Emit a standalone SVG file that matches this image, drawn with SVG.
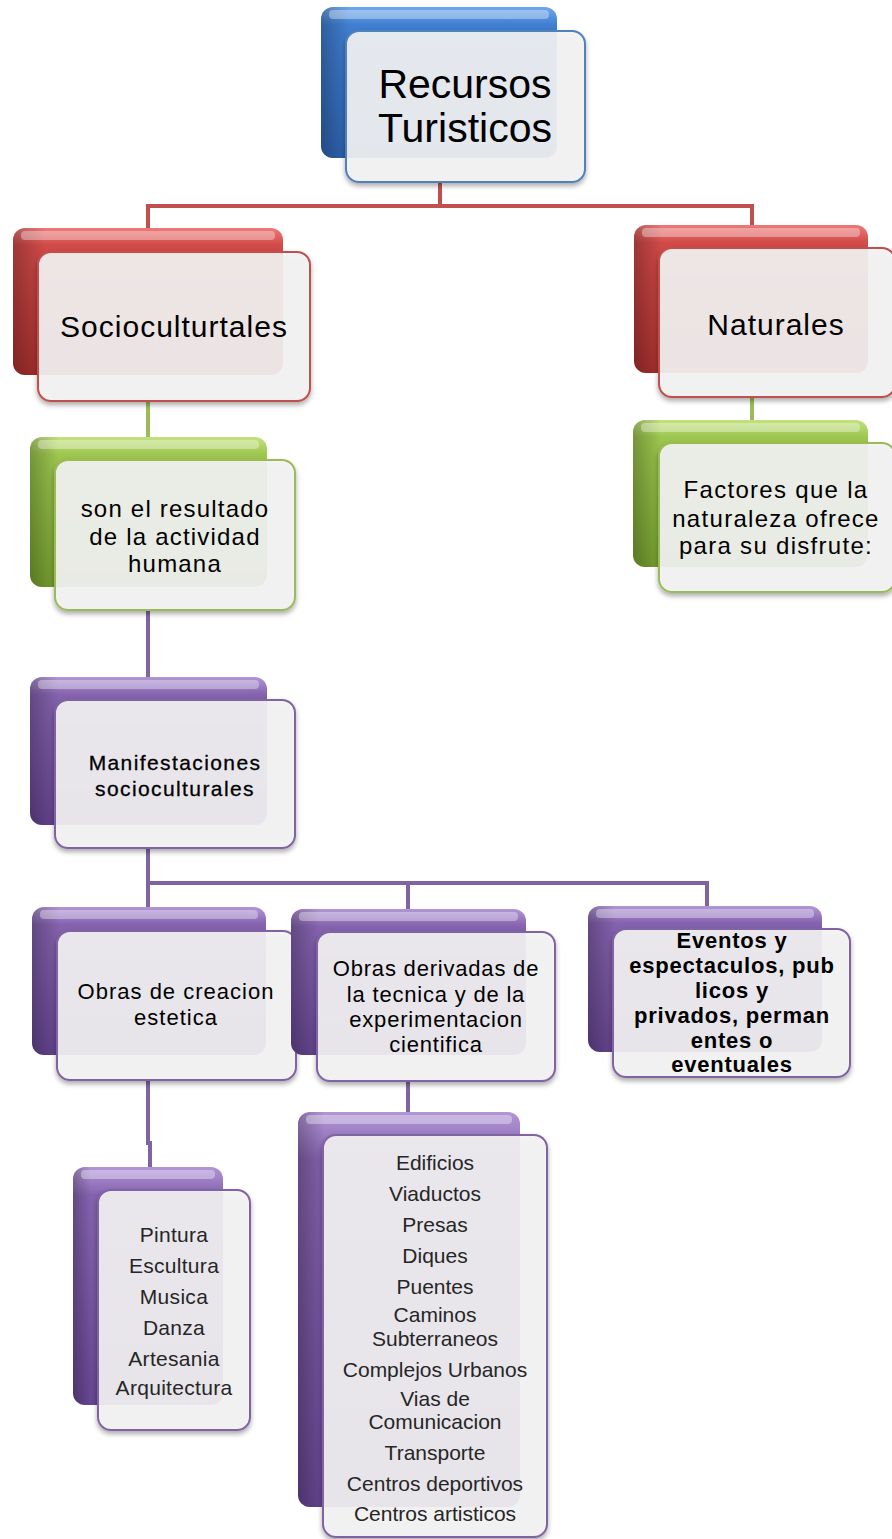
<svg xmlns="http://www.w3.org/2000/svg" width="892" height="1539" viewBox="0 0 892 1539">
<defs>
<linearGradient id="gBlue" x1="0" y1="0" x2="0" y2="1"><stop offset="0" stop-color="#6FA8EC"/><stop offset="0.12" stop-color="#3F7ED0"/><stop offset="1" stop-color="#2E63B0"/></linearGradient>
<linearGradient id="gRed" x1="0" y1="0" x2="0" y2="1"><stop offset="0" stop-color="#EE7A78"/><stop offset="0.12" stop-color="#D04A48"/><stop offset="1" stop-color="#A8302E"/></linearGradient>
<linearGradient id="gGreen" x1="0" y1="0" x2="0" y2="1"><stop offset="0" stop-color="#C3E27F"/><stop offset="0.12" stop-color="#9CC64E"/><stop offset="1" stop-color="#76A030"/></linearGradient>
<linearGradient id="gPurple" x1="0" y1="0" x2="0" y2="1"><stop offset="0" stop-color="#B296D6"/><stop offset="0.12" stop-color="#8462AE"/><stop offset="1" stop-color="#654590"/></linearGradient>
<linearGradient id="gSide" x1="0" y1="0" x2="1" y2="0"><stop offset="0" stop-color="#000" stop-opacity="0.25"/><stop offset="0.12" stop-color="#000" stop-opacity="0"/><stop offset="1" stop-color="#000" stop-opacity="0"/></linearGradient>
<filter id="sh" x="-10%" y="-10%" width="120%" height="125%"><feDropShadow dx="0" dy="3" stdDeviation="2.5" flood-color="#000" flood-opacity="0.35"/></filter>
</defs>
<style>
.front{fill:#F4F4F4;fill-opacity:0.9;stroke-width:2}
.fb{stroke:#4F81BD}.fr{stroke:#C0504D}.fg{stroke:#9BBB59}.fp{stroke:#8064A2}
.hl{fill:#fff;fill-opacity:0.35}
.conn{fill:none;stroke-width:4;stroke-linejoin:miter}
.t{font-family:"Liberation Sans",Arial,sans-serif;text-anchor:middle;fill:#000}
.l{font-family:"Liberation Sans",Arial,sans-serif;text-anchor:middle;fill:#262626;font-size:21px}
</style>

<g id="connectors">
<path class="conn" stroke="#C0504D" d="M148 228 V206 H752 V225 M440 182 V206"/>
<path class="conn" stroke="#9BBB59" d="M148 401 V437 M752 397 V420"/>
<path class="conn" stroke="#8064A2" d="M148 610 V677 M148 848 V883 H707 V906 M148 883 V907 M408 883 V909 M148 1080 V1143 H150 V1167 M408 1081 V1112"/>
</g>

<g id="n-recursos">
<rect x="321" y="7" width="236" height="151" rx="12" fill="url(#gBlue)"/>
<rect x="321" y="7" width="236" height="151" rx="12" fill="url(#gSide)"/>
<rect x="329" y="10" width="220" height="9" rx="4" class="hl"/>
<rect x="346" y="31" width="239" height="151" rx="13" class="front fb" filter="url(#sh)"/>
<text class="t" font-size="41" x="465" y="98">Recursos</text>
<text class="t" font-size="41" x="465" y="142">Turisticos</text>
</g>

<g id="n-socio">
<rect x="13" y="228" width="270" height="147" rx="12" fill="url(#gRed)"/>
<rect x="13" y="228" width="270" height="147" rx="12" fill="url(#gSide)"/>
<rect x="21" y="231" width="254" height="9" rx="4" class="hl"/>
<rect x="38" y="252" width="272" height="149" rx="13" class="front fr" filter="url(#sh)"/>
<text class="t" font-size="30" letter-spacing="1" x="174" y="337">Socioculturtales</text>
</g>

<g id="n-naturales">
<rect x="634" y="225" width="234" height="148" rx="12" fill="url(#gRed)"/>
<rect x="634" y="225" width="234" height="148" rx="12" fill="url(#gSide)"/>
<rect x="642" y="228" width="218" height="9" rx="4" class="hl"/>
<rect x="659" y="248" width="236" height="149" rx="13" class="front fr" filter="url(#sh)"/>
<text class="t" font-size="30" letter-spacing="1" x="776" y="335">Naturales</text>
</g>

<g id="n-resultado">
<rect x="30" y="437" width="237" height="150" rx="12" fill="url(#gGreen)"/>
<rect x="30" y="437" width="237" height="150" rx="12" fill="url(#gSide)"/>
<rect x="38" y="440" width="221" height="9" rx="4" class="hl"/>
<rect x="55" y="460" width="240" height="150" rx="13" class="front fg" filter="url(#sh)"/>
<text class="t" font-size="24" letter-spacing="1.2" x="175" y="517">son el resultado</text>
<text class="t" font-size="24" letter-spacing="1.2" x="175" y="545">de la actividad</text>
<text class="t" font-size="24" letter-spacing="1.2" x="175" y="572">humana</text>
</g>

<g id="n-factores">
<rect x="633" y="420" width="235" height="147" rx="12" fill="url(#gGreen)"/>
<rect x="633" y="420" width="235" height="147" rx="12" fill="url(#gSide)"/>
<rect x="641" y="423" width="219" height="9" rx="4" class="hl"/>
<rect x="659" y="443" width="236" height="149" rx="13" class="front fg" filter="url(#sh)"/>
<text class="t" font-size="24" letter-spacing="1.3" x="776" y="498">Factores que la</text>
<text class="t" font-size="24" letter-spacing="1.3" x="776" y="527">naturaleza ofrece</text>
<text class="t" font-size="24" letter-spacing="1.3" x="776" y="554">para su disfrute:</text>
</g>

<g id="n-manifestaciones">
<rect x="30" y="677" width="237" height="148" rx="12" fill="url(#gPurple)"/>
<rect x="30" y="677" width="237" height="148" rx="12" fill="url(#gSide)"/>
<rect x="38" y="680" width="221" height="9" rx="4" class="hl"/>
<rect x="55" y="700" width="240" height="148" rx="13" class="front fp" filter="url(#sh)"/>
<text class="t" font-size="21" letter-spacing="1.4" stroke="#000" stroke-width="0.3" x="175" y="770">Manifestaciones</text>
<text class="t" font-size="21" letter-spacing="1.4" stroke="#000" stroke-width="0.3" x="175" y="796">socioculturales</text>
</g>

<g id="n-creacion">
<rect x="32" y="907" width="234" height="148" rx="12" fill="url(#gPurple)"/>
<rect x="32" y="907" width="234" height="148" rx="12" fill="url(#gSide)"/>
<rect x="40" y="910" width="218" height="9" rx="4" class="hl"/>
<rect x="57" y="931" width="239" height="149" rx="13" class="front fp" filter="url(#sh)"/>
<text class="t" font-size="22" letter-spacing="1" x="176" y="999">Obras de creacion</text>
<text class="t" font-size="22" letter-spacing="1" x="176" y="1025">estetica</text>
</g>

<g id="n-derivadas">
<rect x="291" y="909" width="235" height="146" rx="12" fill="url(#gPurple)"/>
<rect x="291" y="909" width="235" height="146" rx="12" fill="url(#gSide)"/>
<rect x="299" y="912" width="219" height="9" rx="4" class="hl"/>
<rect x="317" y="932" width="238" height="149" rx="13" class="front fp" filter="url(#sh)"/>
<text class="t" font-size="22" letter-spacing="0.8" x="436" y="976">Obras derivadas de</text>
<text class="t" font-size="22" letter-spacing="0.8" x="436" y="1002">la tecnica y de la</text>
<text class="t" font-size="22" letter-spacing="0.8" x="436" y="1027">experimentacion</text>
<text class="t" font-size="22" letter-spacing="0.8" x="436" y="1052">cientifica</text>
</g>

<g id="n-eventos">
<rect x="588" y="906" width="234" height="146" rx="12" fill="url(#gPurple)"/>
<rect x="588" y="906" width="234" height="146" rx="12" fill="url(#gSide)"/>
<rect x="596" y="909" width="218" height="9" rx="4" class="hl"/>
<rect x="613" y="929" width="237" height="148" rx="13" class="front fp" filter="url(#sh)"/>
<text class="t" font-size="22" font-weight="bold" letter-spacing="0.8" x="732" y="948">Eventos y</text>
<text class="t" font-size="22" font-weight="bold" letter-spacing="0.8" x="732" y="973">espectaculos, pub</text>
<text class="t" font-size="22" font-weight="bold" letter-spacing="0.8" x="732" y="998">licos y</text>
<text class="t" font-size="22" font-weight="bold" letter-spacing="0.8" x="732" y="1023">privados, perman</text>
<text class="t" font-size="22" font-weight="bold" letter-spacing="0.8" x="732" y="1048">entes o</text>
<text class="t" font-size="22" font-weight="bold" letter-spacing="0.8" x="732" y="1072">eventuales</text>
</g>

<g id="n-artes">
<rect x="73" y="1167" width="150" height="238" rx="12" fill="url(#gPurple)"/>
<rect x="73" y="1167" width="150" height="238" rx="12" fill="url(#gSide)"/>
<rect x="81" y="1170" width="134" height="9" rx="4" class="hl"/>
<rect x="98" y="1190" width="152" height="240" rx="13" class="front fp" filter="url(#sh)"/>
<text class="l" letter-spacing="0.3" x="174" y="1242">Pintura</text>
<text class="l" letter-spacing="0.3" x="174" y="1273">Escultura</text>
<text class="l" letter-spacing="0.3" x="174" y="1304">Musica</text>
<text class="l" letter-spacing="0.3" x="174" y="1335">Danza</text>
<text class="l" letter-spacing="0.3" x="174" y="1366">Artesania</text>
<text class="l" letter-spacing="0.3" x="174" y="1395">Arquitectura</text>
</g>

<g id="n-obras">
<rect x="298" y="1112" width="222" height="395" rx="12" fill="url(#gPurple)"/>
<rect x="298" y="1112" width="222" height="395" rx="12" fill="url(#gSide)"/>
<rect x="306" y="1115" width="206" height="9" rx="4" class="hl"/>
<rect x="323" y="1135" width="224" height="402" rx="13" class="front fp" filter="url(#sh)"/>
<text class="l" x="435" y="1170">Edificios</text>
<text class="l" x="435" y="1201">Viaductos</text>
<text class="l" x="435" y="1232">Presas</text>
<text class="l" x="435" y="1263">Diques</text>
<text class="l" x="435" y="1294">Puentes</text>
<text class="l" x="435" y="1322">Caminos</text>
<text class="l" x="435" y="1346">Subterraneos</text>
<text class="l" x="435" y="1377">Complejos Urbanos</text>
<text class="l" x="435" y="1406">Vias de</text>
<text class="l" x="435" y="1429">Comunicacion</text>
<text class="l" x="435" y="1460">Transporte</text>
<text class="l" x="435" y="1491">Centros deportivos</text>
<text class="l" x="435" y="1521">Centros artisticos</text>
</g>
</svg>
